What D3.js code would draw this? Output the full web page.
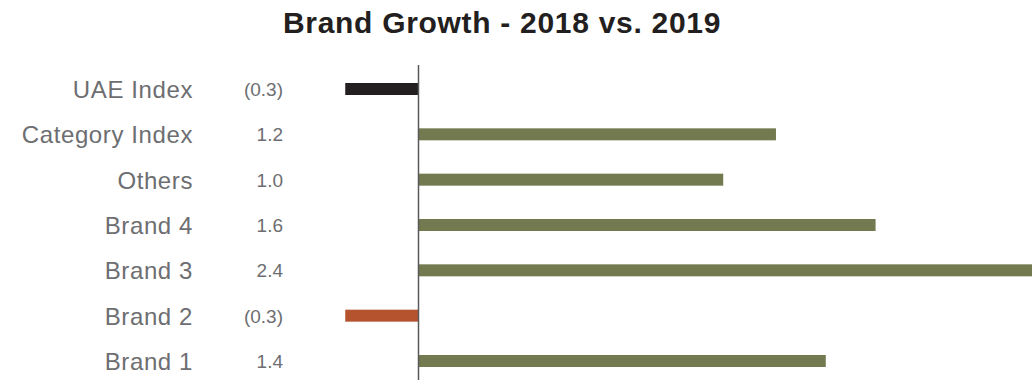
<!DOCTYPE html>
<html>
<head>
<meta charset="utf-8">
<script src="https://cdn.jsdelivr.net/npm/d3@7"></script>
<style>
  html, body { margin: 0; padding: 0; background: #fff; overflow: hidden; }
  svg { display: block; }
</style>
</head>
<body>
<svg id="chart" width="1032" height="380"></svg>
<script>
// Rows, top to bottom
const categories = ["UAE Index", "Category Index", "Others", "Brand 4", "Brand 3", "Brand 2", "Brand 1"];
// Growth, 2018 vs. 2019
const growth = [-0.25, 1.22, 1.04, 1.56, 2.4, -0.25, 1.39];
// Bar colour group per row
const groups = ["market", "positive", "positive", "positive", "positive", "negative", "positive"];

const colors = { market: "#231f20", positive: "#737a4f", negative: "#b5532f" };

const svg = d3.select("#chart");
const W = 1032, H = 380;

// Horizontal value scale, zero line sits at ~418px
const x = d3.scaleLinear().domain([-0.5, 2.5]).range([272, 1151]);
// Row centres
const y = d3.scalePoint().domain(categories).range([89, 361]);
const barH = 12;

const fmt = d3.format("(.1f");

// Title
svg.append("text")
  .attr("x", 502)
  .attr("y", 33)
  .attr("text-anchor", "middle")
  .attr("font-family", "'Liberation Sans', Arial, sans-serif")
  .attr("font-weight", "bold")
  .attr("font-size", 30)
  .attr("letter-spacing", 0.7)
  .attr("fill", "#231f20")
  .text("Brand Growth - 2018 vs. 2019");

// Bars
svg.append("g")
  .selectAll("rect")
  .data(categories)
  .join("rect")
  .attr("x", (d, i) => x(Math.min(0, growth[i])))
  .attr("width", (d, i) => Math.abs(x(growth[i]) - x(0)))
  .attr("y", d => y(d) - barH / 2)
  .attr("height", barH)
  .attr("fill", (d, i) => colors[groups[i]]);

// Zero line
svg.append("line")
  .attr("x1", x(0)).attr("x2", x(0))
  .attr("y1", 65).attr("y2", H)
  .attr("stroke", "#58595b")
  .attr("stroke-width", 1.5);

// Category labels
svg.append("g")
  .selectAll("text")
  .data(categories)
  .join("text")
  .attr("x", 193)
  .attr("y", d => y(d) + 9)
  .attr("text-anchor", "end")
  .attr("font-family", "'Liberation Sans', Arial, sans-serif")
  .attr("font-size", 24)
  .attr("letter-spacing", 0.6)
  .attr("fill", "#6d6e71")
  .text(d => d);

// Value labels
svg.append("g")
  .selectAll("text")
  .data(categories)
  .join("text")
  .attr("x", 283)
  .attr("y", d => y(d) + 7)
  .attr("text-anchor", "end")
  .attr("font-family", "'Liberation Sans', Arial, sans-serif")
  .attr("font-size", 19)
  .attr("fill", "#6d6e71")
  .text((d, i) => fmt(growth[i]));
</script>
</body>
</html>
